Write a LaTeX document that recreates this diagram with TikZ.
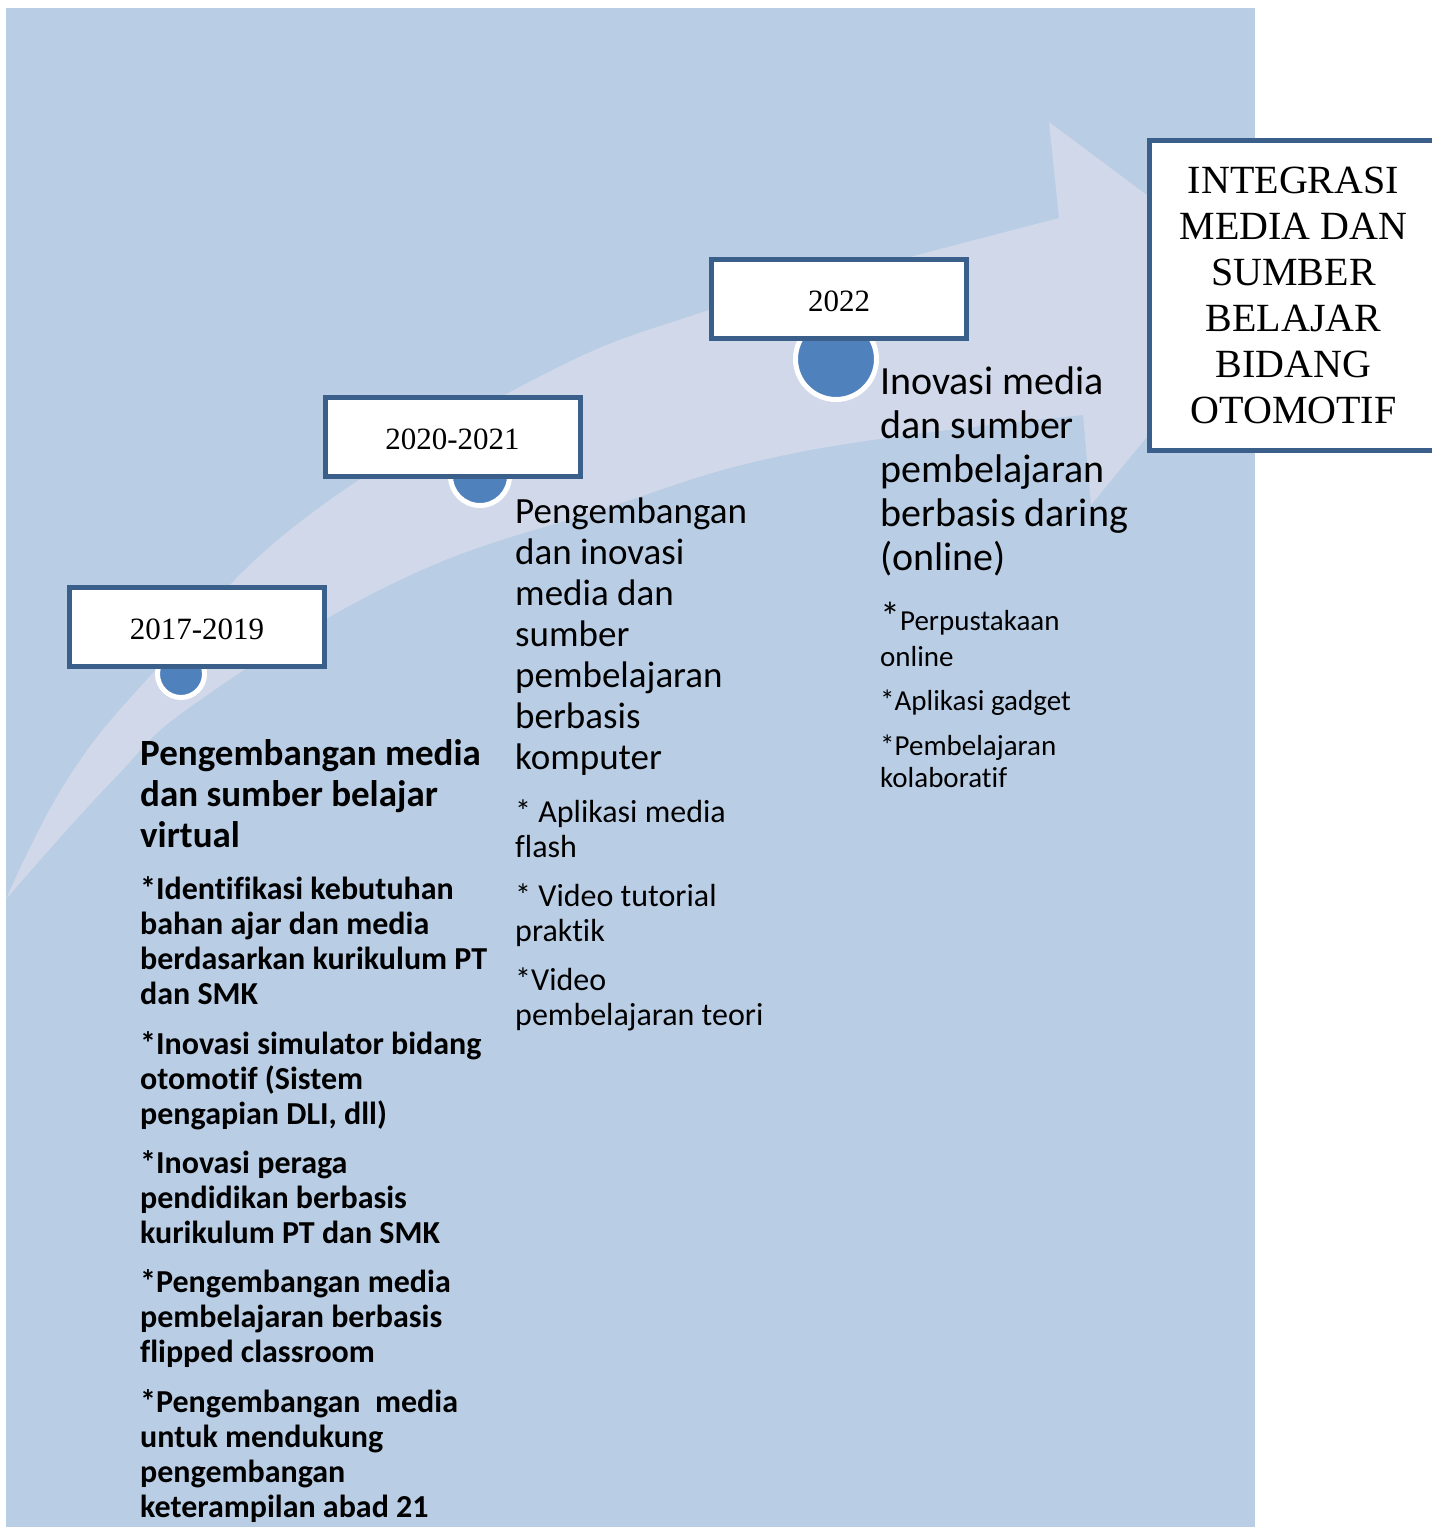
\documentclass[tikz,border=0pt]{standalone}
\usepackage{fontspec}
\setmainfont{Carlito}[Ligatures=NoCommon]
\newfontfamily\timesf{Liberation Serif}
\definecolor{bgblue}{HTML}{B9CDE5}
\definecolor{arrowc}{HTML}{D0D8E9}
\definecolor{boxline}{HTML}{3A5F8B}
\definecolor{dotc}{HTML}{4F81BD}
\newcommand\ttab[1]{\begin{tabular}[t]{@{}l@{}}#1\end{tabular}}
\tikzset{
  yearbox/.style={draw=boxline, line width=5, fill=white, minimum width=255, minimum height=79, inner sep=0, text height=25, text depth=0, font=\timesf\fontsize{31}{36}\selectfont},
  goalbox/.style={draw=boxline, line width=5, fill=white, minimum width=288, minimum height=310, inner sep=0, align=center, font=\timesf\fontsize{40}{46}\selectfont},
  dot/.style={circle, fill=dotc, draw=white, line width=5, inner sep=0},
  txt/.style={anchor=base west, inner sep=0},
  headA/.style={txt, font=\bfseries\fontsize{37}{41}\selectfont},
  itemA/.style={txt, font=\bfseries\fontsize{32}{35}\selectfont},
  headB/.style={txt, font=\fontsize{37}{41}\selectfont},
  itemB/.style={txt, font=\fontsize{32}{35}\selectfont},
  headC/.style={txt, font=\fontsize{40}{44}\selectfont},
  itemC/.style={txt, font=\fontsize{29}{32}\selectfont}
}
\begin{document}
\begin{tikzpicture}[x=1pt,y=-1pt]
\useasboundingbox (0,0) rectangle (1432,1527);
\clip (0,0) rectangle (1432,1527);
\fill[bgblue] (6,8) rectangle (1255,1527);
% curved arrow
\fill[arrowc] plot[smooth, tension=0.7] coordinates {(7,897) (67,780) (150,676) (300,522) (533,380) (700,313) (887,263) (1059,218)}
  -- (1049,122) -- (1270,287) -- (1091,505)
  -- plot[smooth, tension=0.7] coordinates {(1083,415) (800,452) (600,510) (400,580) (200,700) (113,780) (7,898)} -- cycle;
% dots
\node[dot, minimum size=47] (dot1) at (181,674) {};
\node[dot, minimum size=59] (dot2) at (480,476) {};
\node[dot, minimum size=81] (dot3) at (836,359) {};
% year boxes
\node[yearbox] (y1) at (197,626.5) {2017-2019};
\node[yearbox] (y2) at (452.5,437) {2020-2021};
\node[yearbox] (y3) at (839,299) {2022};
% goal box
\node[goalbox] (goal) at (1293.5,295) {INTEGRASI\\MEDIA DAN\\SUMBER\\BELAJAR\\BIDANG\\OTOMOTIF};
% column 1
\node[headA] (a0) at (140,765) {\ttab{Pengembangan media\\dan sumber belajar\\virtual}};
\node[itemA] (a1) at (140,899) {\ttab{*Identifikasi kebutuhan\\bahan ajar dan media\\berdasarkan kurikulum PT\\dan SMK}};
\node[itemA] (a2) at (140,1054) {\ttab{*Inovasi simulator bidang\\otomotif (Sistem\\pengapian DLI, dll)}};
\node[itemA] (a3) at (140,1173) {\ttab{*Inovasi peraga\\pendidikan berbasis\\kurikulum PT dan SMK}};
\node[itemA] (a4) at (140,1292) {\ttab{*Pengembangan media\\pembelajaran berbasis\\flipped classroom}};
\node[itemA] (a5) at (140,1412) {\ttab{*Pengembangan\ \ media\\untuk mendukung\\pengembangan\\keterampilan abad 21}};
% column 2
\node[headB] (b0) at (515,523.5) {\ttab{Pengembangan\\dan inovasi\\media dan\\sumber\\pembelajaran\\berbasis\\komputer}};
\node[itemB] (b1) at (515,822) {\ttab{* Aplikasi media\\flash}};
\node[itemB] (b2) at (515,906) {\ttab{* Video tutorial\\praktik}};
\node[itemB] (b3) at (515,990) {\ttab{*Video\\pembelajaran teori}};
% column 3
\node[headC] (c0) at (880,394) {\ttab{Inovasi media\\dan sumber\\pembelajaran\\berbasis daring\\(online)}};
\node[itemC] (c1) at (880,630) {\ttab{{\fontsize{40}{44}\selectfont*}Perpustakaan\\[4pt]online}};
\node[itemC] (c2) at (880,710) {\ttab{*Aplikasi gadget}};
\node[itemC] (c3) at (880,755) {\ttab{*Pembelajaran\\kolaboratif}};
\end{tikzpicture}
\end{document}
